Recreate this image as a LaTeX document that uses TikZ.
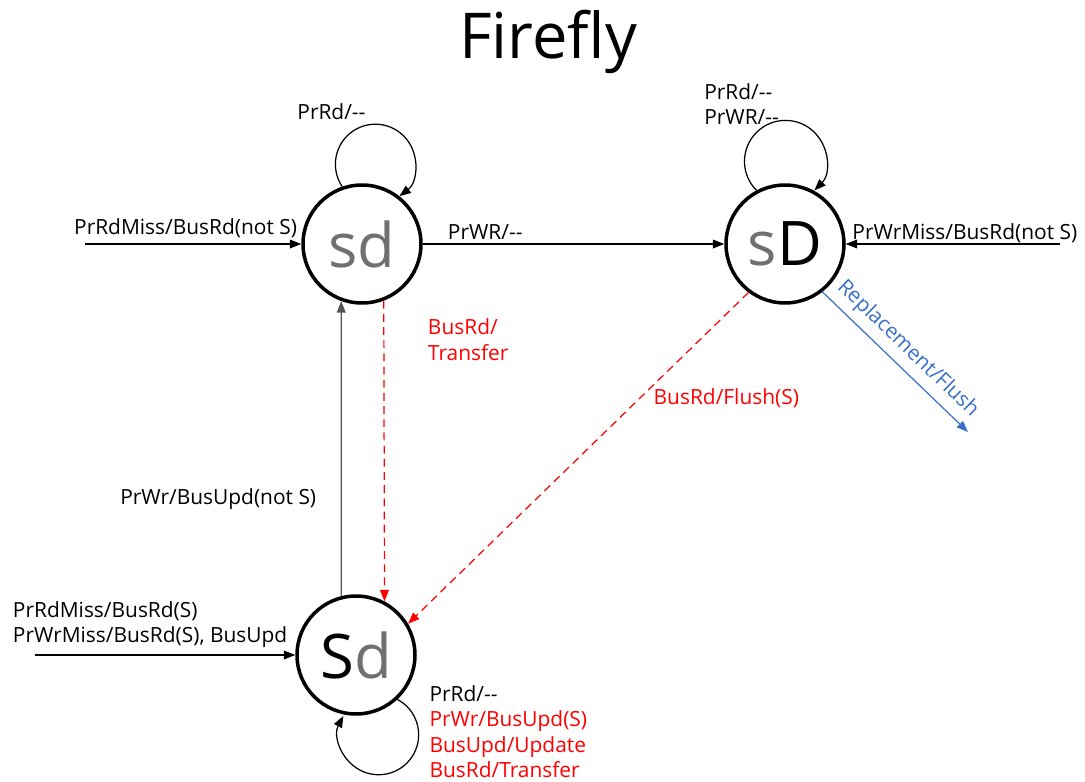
\documentclass[tikz,border=0pt]{standalone}
\usepackage{fontspec}
\setmainfont{Open Sans}
\usetikzlibrary{arrows.meta}
\definecolor{stategray}{RGB}{112,112,112}
\definecolor{linegray}{RGB}{85,85,85}
\definecolor{flushblue}{RGB}{58,112,200}

\begin{document}
\begin{tikzpicture}[x=0.02cm,y=-0.02cm,font=\fontsize{11.9}{14.5}\selectfont,
    >={Triangle[length=6.5pt,width=5pt]}, line width=0.7pt]
      \tikzstyle{state node}=[circle,draw,line width=2pt,minimum size=2.36cm,inner sep=0,font=\fontsize{35}{35}\selectfont]
      \tikzstyle{trans}=[->]
      \tikzstyle{snoop}=[->,red,dash pattern=on 4.5pt off 3pt]
      \tikzstyle{lbl}=[align=left,inner sep=2pt]
      \useasboundingbox (0,0) rectangle (1085,781);

      \node(title) at (548,42) {\fontsize{36}{36}\selectfont Firefly};
      \node(sd)[state node] at (362,244) {\textcolor{stategray}{sd}};
      \node(sD)[state node] at (785,244) {\textcolor{stategray}{s}D};
      \node(Sd)[state node] at (356,655) {S\textcolor{stategray}{d}};

      \coordinate(sdIn) at (85,244);
      \coordinate(sDIn) at (1060,244);
      \coordinate(SdIn) at (35,655);
      \coordinate(flushOut) at (968,432);

      % misses from the processor
      \draw[trans] (sdIn) -- (sd.west) node[lbl,midway,above,xshift=-0.15cm,yshift=0.05cm]{PrRdMiss/BusRd(not S)};
      \draw[trans] (sDIn) -- (sD.east) node[lbl,midway,above,xshift=0.24cm,yshift=-0.06cm]{PrWrMiss/BusRd(not S)};
      \draw[trans] (SdIn) -- (Sd.west) node[lbl,midway,above,xshift=-0.3cm,yshift=0.06cm]{PrRdMiss/BusRd(S)\\PrWrMiss/BusRd(S), BusUpd};

      % self loops
      \draw[trans] (sd.109) arc[start angle=214,end angle=-53,radius=0.8cm]
          node[lbl,pos=0.46,anchor=south east,xshift=-0.1cm]{PrRd/-{}-};
      \draw[trans] (sD.118) arc[start angle=225,end angle=-45,radius=0.82cm]
          node[lbl,pos=0.5,anchor=south east,xshift=-0.05cm,yshift=-0.17cm]{PrRd/-{}-\\PrWR/-{}-};
      \draw[trans] (Sd.-47) arc[start angle=62,end angle=-208,radius=0.8cm]
          node[lbl,pos=0,anchor=north west,xshift=0.56cm,yshift=0.36cm]{PrRd/-{}-\\\textcolor{red}{PrWr/BusUpd(S)}\\\textcolor{red}{BusUpd/Update}\\\textcolor{red}{BusRd/Transfer}};

      % between states
      \draw[trans] (sd.east) -- (sD.west) node[lbl,pos=0.07,above right]{PrWR/-{}-};
      \draw[trans,linegray] (Sd.104) -- (sd.250) node[lbl,pos=0.33,left,xshift=-0.42cm,text=black]{PrWr/BusUpd(not S)};
      \draw[snoop] (sd.291) -- (Sd.62) node[lbl,pos=0.13,right,xshift=0.8cm,text=red]{BusRd/\\Transfer};
      \draw[snoop] (sD.233) -- (Sd.31) node[lbl,pos=0.32,anchor=west,xshift=0.2cm,text=red]{BusRd/Flush(S)};
      \draw[trans,flushblue] (sD.-52) -- (flushOut) node[lbl,midway,sloped,above,inner sep=4pt,text=flushblue]{Replacement/Flush};
    \end{tikzpicture}
\end{document}
